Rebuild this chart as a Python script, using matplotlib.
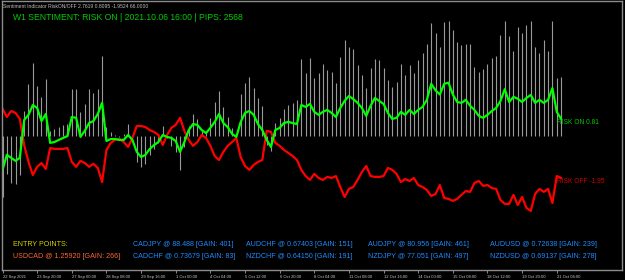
import numpy as np
import matplotlib.pyplot as plt

# indicator buffers, one value per H4 bar
green = [-1.57, -0.87, -1.01, -1.15, -1.01, 0.76, 1.00, 1.46, 1.32, 0.71,
         1.04, -0.31, -0.27, -0.17, -0.08, 0.01, 0.90, 0.86, -0.03, 0.25,
         0.62, 0.71, 1.04, 1.56, -0.22, -0.13, -0.13, -0.17, -0.17, 0.06,
         -0.17, -0.73, -0.97, -0.87, -0.59, -0.41, -0.27, 0.06, -0.03, -0.08,
         -0.22, -0.73, -0.27, 0.29, 0.57, 0.53, 0.29, 0.15, 0.39, 0.67,
         1.04, 0.62, 0.43, 0.11, -0.03, 0.67, 1.09, 1.18, 1.00, 0.57,
         0.29, -0.17, -0.50, 0.29, 0.39, 0.62, 0.67, 0.62, 0.57, 1.46,
         1.37, 1.51, 1.14, 1.00, 1.14, 1.23, 1.09, 0.90, 1.32, 1.65,
         1.88, 1.74, 1.56, 1.32, 0.95, 1.42, 1.79, 1.65, 1.51, 1.09,
         0.81, 0.86, 1.14, 1.00, 1.23, 1.04, 1.23, 1.37, 1.70, 2.45,
         2.15, 1.95, 2.45, 2.50, 1.95, 1.60, 1.56, 1.70, 1.42, 1.23,
         0.95, 0.86, 1.00, 1.18, 1.32, 1.65, 2.20, 1.60, 1.84, 1.75,
         1.60, 1.79, 1.93, 1.56, 1.70, 1.56, 1.70, 2.25, 1.14, 0.81]
red = [1.28, 0.90, 1.18, 1.09, 0.81, -0.41, -1.20, -1.81, -1.43, -1.25,
       -1.53, -0.55, -0.59, -0.59, -0.59, -0.55, -1.20, -1.43, -1.15, -1.25,
       -1.43, -1.29, -1.48, -2.14, -0.64, -0.31, -0.17, -0.13, -0.27, -0.50,
       -0.08, 0.48, 0.48, 0.43, 0.29, 0.20, 0.06, -0.41, 0.06, 0.39,
       0.53, 0.86, 0.25, -0.17, -0.45, -0.27, 0.06, -0.08, -0.45, -0.92,
       -1.11, -0.73, -0.45, -0.27, -0.08, -0.97, -1.39, -1.57, -1.34, -1.20,
       -1.11, 0.25, 0.20, -0.31, -0.45, -0.64, -0.78, -0.92, -1.11, -1.57,
       -1.86, -2.04, -1.76, -1.95, -2.04, -1.90, -1.95, -1.86, -2.37, -2.84,
       -2.46, -2.37, -2.04, -1.67, -1.39, -1.86, -1.90, -1.90, -1.86, -1.48,
       -1.57, -1.76, -2.14, -2.00, -2.09, -1.95, -2.28, -2.37, -2.51, -2.79,
       -2.70, -2.28, -2.88, -2.93, -3.02, -2.93, -2.74, -2.56, -2.60, -2.18,
       -2.09, -2.32, -2.28, -2.42, -2.46, -2.98, -3.16, -3.16, -2.74, -3.21,
       -2.84, -3.35, -3.49, -2.70, -2.46, -2.60, -2.46, -3.12, -1.86, -1.95]
hist = [-2.85, -1.77, -2.19, -2.24, -1.82, 1.17, 2.43, 3.41, 2.36, 1.85,
        2.66, 0.24, 0.32, 0.42, 0.51, 0.56, 2.21, 2.21, 1.12, 1.50,
        2.21, 2.00, 2.21, 3.75, 0.42, 0.18, 0.04, -0.04, 0.10, 0.56,
        -0.09, -1.21, -1.45, -1.30, -0.88, -0.61, -0.33, 0.47, -0.09, -0.47,
        -0.75, -1.59, -0.52, 0.46, 1.02, 0.80, 0.23, 0.23, 0.84, 1.59,
        2.12, 1.35, 0.88, 0.38, 0.05, 1.98, 2.48, 2.79, 2.24, 1.77,
        1.40, -0.42, -0.70, 0.60, 0.84, 1.26, 1.45, 1.54, 1.68, 3.60,
        2.97, 3.64, 2.71, 2.97, 3.38, 3.10, 3.00, 2.50, 3.71, 4.50,
        4.19, 4.07, 3.32, 2.86, 2.24, 3.21, 3.60, 3.57, 3.21, 2.63,
        2.32, 2.55, 3.36, 2.86, 3.32, 2.94, 3.57, 3.88, 4.31, 5.28,
        4.84, 4.19, 5.36, 5.39, 4.97, 4.42, 4.27, 4.31, 4.31, 3.25,
        3.02, 3.13, 3.38, 3.64, 3.75, 4.73, 5.39, 4.69, 3.99, 5.09,
        4.81, 5.20, 5.39, 4.19, 3.88, 4.50, 3.99, 5.39, 2.71, 2.76]

time_labels = ['22 Sep 2021', '23 Sep 20:00', '27 Sep 00:00', '28 Sep 08:00',
               '29 Sep 16:00', '1 Oct 00:00', '4 Oct 04:00', '5 Oct 12:00',
               '6 Oct 20:00', '8 Oct 04:00', '11 Oct 08:00', '12 Oct 16:00',
               '14 Oct 00:00', '15 Oct 08:00', '18 Oct 12:00', '19 Oct 20:00',
               '21 Oct 04:00']
label_step = 8

heading = 'W1 SENTIMENT: RISK ON | 2021.10.06 16:00 | PIPS: 2568'
sub_title = 'Sentiment Indicator RiskON/OFF 2.7619 0.8095 -1.9524 66.0000'
entry_main = 'USDCAD @ 1.25920 [GAIN: 266]'
entry_cols = [['CADJPY @ 88.488 [GAIN: 401]', 'CADCHF @ 0.73679 [GAIN: 83]'],
              ['AUDCHF @ 0.67403 [GAIN: 151]', 'NZDCHF @ 0.64150 [GAIN: 191]'],
              ['AUDJPY @ 80.956 [GAIN: 461]', 'NZDJPY @ 77.051 [GAIN: 497]'],
              ['AUDUSD @ 0.72638 [GAIN: 239]', 'NZDUSD @ 0.69137 [GAIN: 278]']]

W, H = 625, 280
plt.rcParams['font.family'] = ['Liberation Sans', 'DejaVu Sans']
fig = plt.figure(figsize=(W / 100, H / 100), dpi=100, facecolor='black')
ax = fig.add_axes([2 / W, 10 / H, 620 / W, 269 / H], facecolor='black')

x = np.arange(len(green))
ax.vlines(x, 0, hist, color='#9a9a9a', lw=0.8)
ax.plot(x, red, color='#ff0000', lw=1.6)
ax.plot(x, green, color='#00ff00', lw=1.6)

ax.text(x[-1] - 1, green[-1], 'RISK ON %.2f' % green[-1], color='#00c800',
        fontsize=4.8, va='top', ha='left')
ax.text(x[-1] - 1, red[-1], 'RISK OFF %.2f' % red[-1], color='#d00000',
        fontsize=4.8, va='top', ha='left')

ax.set_xlim(-0.12, 143.07)
ax.set_ylim(-6.25, 6.32)
ticks = np.arange(len(time_labels)) * label_step
ax.set_xticks(ticks)
ax.set_xticklabels(time_labels, fontsize=3, color='#c8c8c8', ha='left')
ax.tick_params(axis='x', length=2, width=0.6, color='#a0a0a0', pad=1.5)
ax.set_yticks([])
for s in ax.spines.values():
    s.set_color('#8c8c8c')
    s.set_linewidth(1)

def fx(px):
    return px / W

def fy(py):
    return 1 - py / H

fig.text(fx(3), fy(6), sub_title, color='#c0c0c0', fontsize=3.6, va='center')
fig.text(fx(13), fy(17), heading, color='#00cc00', fontsize=6.2, va='center')
fig.text(fx(13), fy(245), 'ENTRY POINTS:', color='#d4d400', fontsize=5.1, va='center')
fig.text(fx(13), fy(256), entry_main, color='#ff6633', fontsize=5.1, va='center')
for cx, col in zip([133, 246, 368, 490], entry_cols):
    fig.text(fx(cx), fy(245), col[0], color='#1e8cff', fontsize=5.1, va='center')
    fig.text(fx(cx), fy(256), col[1], color='#1e8cff', fontsize=5.1, va='center')

fig.savefig('out.png', dpi=100, facecolor='black')
